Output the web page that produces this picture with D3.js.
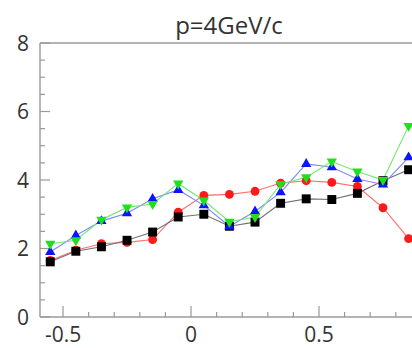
<!DOCTYPE html>
<html>
<head>
<meta charset="utf-8">
<script src="https://cdn.jsdelivr.net/npm/d3@7"></script>
<style>
  html, body { margin: 0; padding: 0; background: #fff; }
  svg { display: block; }
  text { font-family: "Open Sans", "DejaVu Sans", sans-serif; fill: #333; }
</style>
</head>
<body>
<svg id="chart" width="412" height="348"></svg>
<script>
// Bin centres along x
const xValues = [-0.55, -0.45, -0.35, -0.25, -0.15, -0.05, 0.05, 0.15, 0.25, 0.35, 0.45, 0.55, 0.65, 0.75, 0.85];

// Series values per bin
const blackSquares  = [1.61, 1.92, 2.05, 2.24, 2.48, 2.92, 3.00, 2.65, 2.77, 3.32, 3.45, 3.43, 3.61, 3.98, 4.30];
const redCircles    = [1.65, 1.95, 2.14, 2.18, 2.26, 3.06, 3.55, 3.58, 3.67, 3.91, 3.98, 3.93, 3.81, 3.19, 2.29];
const blueTriangles = [1.90, 2.38, 2.80, 3.03, 3.45, 3.71, 3.26, 2.65, 3.08, 3.64, 4.47, 4.37, 4.03, 3.87, 4.66];
const greenTriangles= [2.14, 2.24, 2.84, 3.20, 3.30, 3.90, 3.40, 2.78, 2.92, 3.88, 4.08, 4.54, 4.25, 4.00, 5.58];

// Tick labels
const xTickLabels = [-0.5, 0, 0.5];
const yTickLabels = [0, 2, 4, 6, 8];

const titleText = "p=4GeV/c";

const svg = d3.select("#chart");
const W = 412, H = 348;

const x = d3.scaleLinear().domain([-0.59, 0.9]).range([40, 421.4]);
const y = d3.scaleLinear().domain([0, 8]).range([317, 43]);

const axisColor = "#9a9a9a";

// Title
svg.append("text")
  .attr("x", 229).attr("y", 34)
  .attr("text-anchor", "middle")
  .attr("font-size", 24)
  .text(titleText);

// Frame: top edge
svg.append("line")
  .attr("x1", x.range()[0]).attr("x2", W + 10)
  .attr("y1", y(8)).attr("y2", y(8))
  .attr("stroke", axisColor).attr("stroke-width", 1.4);

// X axis with inward ticks
const xMinor = d3.range(-0.5, 0.91, 0.1).map(v => Math.round(v * 10) / 10);
const xAxisG = svg.append("g").attr("transform", `translate(0,${y(0)})`);
xAxisG.append("line")
  .attr("x1", x.range()[0]).attr("x2", W + 10)
  .attr("stroke", axisColor).attr("stroke-width", 1.4);
xAxisG.selectAll("line.tick").data(xMinor).join("line")
  .attr("class", "tick")
  .attr("x1", d => x(d)).attr("x2", d => x(d))
  .attr("y1", 0)
  .attr("y2", d => (Math.abs(d * 2 - Math.round(d * 2)) < 1e-6 ? -11 : -5))
  .attr("stroke", axisColor).attr("stroke-width", 1.2);
xAxisG.selectAll("text").data(xTickLabels).join("text")
  .attr("x", d => x(d)).attr("y", 25)
  .attr("text-anchor", "middle")
  .attr("font-size", 21)
  .text(d => String(d));

// Y axis with inward ticks
const yMinor = d3.range(0, 8.01, 0.5);
const yAxisG = svg.append("g").attr("transform", `translate(${x.range()[0]},0)`);
yAxisG.append("line")
  .attr("y1", y(0)).attr("y2", y(8))
  .attr("stroke", axisColor).attr("stroke-width", 1.4);
yAxisG.selectAll("line.tick").data(yMinor).join("line")
  .attr("class", "tick")
  .attr("y1", d => y(d)).attr("y2", d => y(d))
  .attr("x1", 0)
  .attr("x2", d => (d % 2 === 0 ? 10 : 5))
  .attr("stroke", axisColor).attr("stroke-width", 1.2);
yAxisG.selectAll("text").data(yTickLabels).join("text")
  .attr("x", -11).attr("y", d => y(d) + 7.5)
  .attr("text-anchor", "end")
  .attr("font-size", 21)
  .text(d => d);

// Series
const series = [
  { values: redCircles,     color: "#ff1a1a", line: "#ff7070", shape: d3.symbolCircle,   size: 62 },
  { values: blackSquares,   color: "#000000", line: "#707070", shape: d3.symbolSquare,   size: 80 },
  { values: blueTriangles,  color: "#0a14ff", line: "#7f86ff", shape: d3.symbolTriangle, size: 46, rot: 0 },
  { values: greenTriangles, color: "#1ee01e", line: "#70e870", shape: d3.symbolTriangle, size: 46, rot: 180 }
];

const lineGen = d3.line().x(d => x(d[0])).y(d => y(d[1]));

series.forEach(s => {
  const pts = xValues.map((xv, i) => [xv, s.values[i]]);
  svg.append("path")
    .datum(pts)
    .attr("d", lineGen)
    .attr("fill", "none")
    .attr("stroke", s.line)
    .attr("stroke-width", 1.1);
});

series.forEach(s => {
  const pts = xValues.map((xv, i) => [xv, s.values[i]]);
  svg.append("g").selectAll("path").data(pts).join("path")
    .attr("d", d3.symbol().type(s.shape).size(s.size))
    .attr("transform", d => `translate(${x(d[0])},${y(d[1])}) rotate(${s.rot || 0})`)
    .attr("fill", s.color);
});
</script>
</body>
</html>
